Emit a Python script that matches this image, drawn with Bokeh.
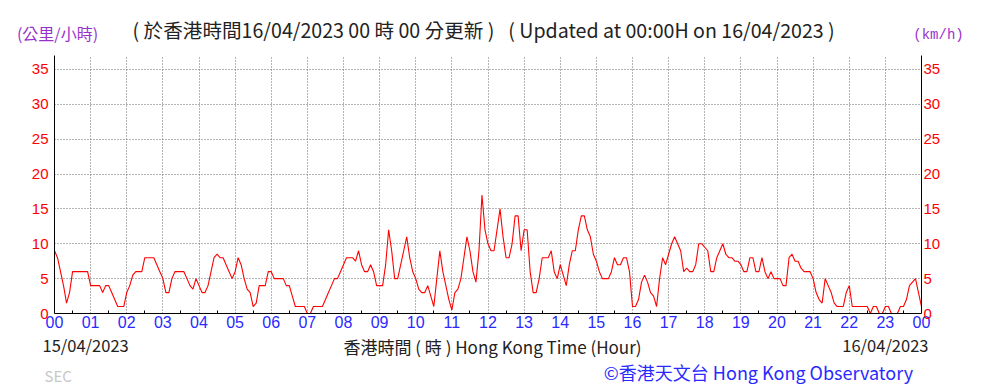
from bokeh.plotting import figure
from bokeh.models import Range1d, LinearAxis, FixedTicker, Plot
from bokeh.layouts import column
from bokeh.core.properties import value
from bokeh.embed import file_html
from bokeh.resources import INLINE

# ---------------- data (wind speed, km/h, every 5 minutes) ----------------
hour_labels = ["00", "01", "02", "03", "04", "05", "06", "07", "08", "09", "10", "11",
               "12", "13", "14", "15", "16", "17", "18", "19", "20", "21", "22", "23", "00"]
speed_h00 = [9, 8, 6, 4, 1.5, 3, 6, 6, 6, 6, 6, 6]
speed_h01 = [4, 4, 4, 4, 3, 4, 4, 3, 2, 1, 1, 1]
speed_h02 = [3, 4, 5.5, 6, 6, 6, 8, 8, 8, 8, 7, 6]
speed_h03 = [5, 3, 3, 5, 6, 6, 6, 6, 5, 4, 3.5, 5]
speed_h04 = [4, 3, 3, 4, 6, 8, 8.5, 8, 8, 7, 6, 5]
speed_h05 = [6, 8, 7, 5, 3.5, 3, 1, 1.5, 4, 4, 4, 6]
speed_h06 = [6, 5, 5, 5, 5, 4, 4, 2.5, 1, 1, 1, 1]
speed_h07 = [0, 0, 1, 1, 1, 1, 2, 3, 4, 5, 5, 6]
speed_h08 = [7, 8, 8, 8, 7.5, 9, 7, 6, 6, 7, 6, 4]
speed_h09 = [4, 4, 7, 12, 9, 5, 5, 7, 9, 11, 8, 6]
speed_h10 = [5, 3.5, 3, 3, 4, 2.5, 1, 5, 9, 6, 4, 2]
speed_h11 = [0.5, 3, 3.5, 5, 8, 11, 9, 6, 4.5, 9, 17, 12]
speed_h12 = [10, 9, 9, 12, 15, 11, 8, 8, 10, 14, 14, 9]
speed_h13 = [12, 12, 6, 3, 3, 5, 8, 8, 8, 9, 6, 5]
speed_h14 = [7, 5.5, 4, 7, 9, 9, 12, 14, 14, 12, 11, 8.5]
speed_h15 = [7.5, 6, 5, 5, 5, 6, 8, 7, 7, 8, 8, 6]
speed_h16 = [1, 1, 2, 4.5, 5.5, 4.5, 3, 2.5, 1, 5, 8, 7]
speed_h17 = [8.5, 10, 11, 10, 9, 6, 6.5, 6, 6, 7, 10, 10]
speed_h18 = [9.5, 9, 6, 6, 8, 9, 10, 8.5, 8, 8, 7.5, 7.5]
speed_h19 = [7, 6, 6, 8, 8, 6, 6, 8, 6, 5, 6, 5]
speed_h20 = [5, 5, 4, 4, 8, 8.5, 7.5, 7.5, 6.5, 6, 6, 6]
speed_h21 = [5, 3, 2, 1.5, 5, 4, 3, 1.5, 1, 1, 1, 3]
speed_h22 = [4, 1, 1, 1, 1, 1, 1, 0, 1, 1, 0, 0]
speed_h23 = [1, 1, 0, 0, 0, 1, 1, 2, 4, 4.5, 5, 3]
speed_end = [1]

speed = (speed_h00 + speed_h01 + speed_h02 + speed_h03 + speed_h04 + speed_h05 +
         speed_h06 + speed_h07 + speed_h08 + speed_h09 + speed_h10 + speed_h11 +
         speed_h12 + speed_h13 + speed_h14 + speed_h15 + speed_h16 + speed_h17 +
         speed_h18 + speed_h19 + speed_h20 + speed_h21 + speed_h22 + speed_h23 + speed_end)
minutes_step = 5
hours = [i * minutes_step / 60 for i in range(len(speed))]
y_ticks = [0, 5, 10, 15, 20, 25, 30, 35]

W = 981
LEFT = 54
TOP_H = 55
FW, FH = 867, 258
YMAX = 37
BOTTOM_BORDER = 20
CAN_UNALIGN = "frame_align" in Plot.properties()

# ---------------- main chart ----------------
p = figure(frame_width=FW, frame_height=FH, output_backend="svg", toolbar_location=None,
           x_range=Range1d(0, 24), y_range=Range1d(0, YMAX),
           min_border_left=LEFT, min_border_right=W - LEFT - FW, min_border_top=0,
           min_border_bottom=BOTTOM_BORDER,
           background_fill_color="white", border_fill_color="white")
p.outline_line_color = None

xt = FixedTicker(ticks=list(range(25)), minor_ticks=[h + 0.5 for h in range(24)])
yt = FixedTicker(ticks=y_ticks, minor_ticks=[])

p.xaxis.ticker = xt
p.xaxis.major_label_overrides = {i: lab for i, lab in enumerate(hour_labels)}
p.xaxis.axis_line_color = "black"
p.xaxis.major_tick_in = 0
p.xaxis.major_tick_out = 0
p.xaxis.minor_tick_in = 3
p.xaxis.minor_tick_out = 0
p.xaxis.minor_tick_line_color = "black"
p.xaxis.major_label_text_color = "#2a2aff"
p.xaxis.major_label_text_font = "Liberation Sans"
p.xaxis.major_label_text_font_size = "16px"
p.xaxis.major_label_standoff = 2

p.yaxis.ticker = yt
p.yaxis.axis_line_color = "black"
p.yaxis.major_tick_in = 0
p.yaxis.major_tick_out = 0
p.yaxis.minor_tick_line_color = None
p.yaxis.major_label_text_color = "#ff0000"
p.yaxis.major_label_text_font = "Liberation Sans"
p.yaxis.major_label_text_font_size = "15px"
p.yaxis.major_label_standoff = 6

ry = LinearAxis(ticker=yt, axis_line_color="black", major_tick_in=0, major_tick_out=0,
                minor_tick_line_color=None, major_label_text_color="#ff0000",
                major_label_text_font="Liberation Sans",
                major_label_text_font_size="15px", major_label_standoff=2)
p.add_layout(ry, "right")

p.xgrid.ticker = xt
p.ygrid.ticker = yt
for g in (p.xgrid, p.ygrid):
    g.grid_line_color = "#6a6a6a"
    g.grid_line_dash = "1 2"
    g.grid_line_width = 1

p.line(hours, speed, line_color="#ff0000", line_width=1.1)


# ---------------- text strips above and below (page-pixel coordinates) ----------------
def strip(y0, y1):
    f = figure(width=W, height=y1 - y0, output_backend="svg", toolbar_location=None,
               x_range=Range1d(0, W), y_range=Range1d(y1, y0),
               min_border=0, background_fill_color="white", border_fill_color="white")
    f.axis.visible = False
    f.grid.visible = False
    f.outline_line_color = None
    if CAN_UNALIGN:
        f.frame_align = False
    return f


def put(f, txt, px, py, align, color, font, size):
    f.text(x=[px], y=[py], text=[txt], text_align=align, text_baseline="middle",
           text_color=color, text_font=value(font), text_font_size=size)


if CAN_UNALIGN:
    p.frame_align = False

top = strip(0, TOP_H)
put(top, "( 於香港時間16/04/2023 00 時 00 分更新 )", 313, 29, "center", "#222222",
    "Noto Sans CJK TC", "19.6px")
put(top, "( Updated at 00:00H on 16/04/2023 )", 671, 29, "center", "#222222",
    "Noto Sans CJK TC", "19.6px")
put(top, "(公里/小時)", 57, 32, "center", "#9932CC", "Noto Sans CJK TC", "16px")
put(top, "(km/h)", 938, 34, "center", "#9932CC", "Liberation Mono", "14px")

b0 = TOP_H + FH + BOTTOM_BORDER
bottom = strip(b0, 386)
put(bottom, "15/04/2023", 42, 344.5, "left", "#222222", "Noto Sans CJK TC", "16.5px")
put(bottom, "香港時間 ( 時 ) Hong Kong Time (Hour)", 492, 345.5, "center", "#222222",
    "Noto Sans CJK TC", "17px")
put(bottom, "16/04/2023", 928, 344.5, "right", "#222222", "Noto Sans CJK TC", "16.5px")
put(bottom, "SEC", 44, 375, "left", "#c8c8c8", "Noto Sans CJK TC", "15px")
put(bottom, "©香港天文台 Hong Kong Observatory", 758, 371, "center", "#2a2aff",
    "Noto Sans CJK TC", "18px")

layout = column(top, p, bottom, spacing=0)
open("out.html", "w").write(file_html(layout, INLINE))
